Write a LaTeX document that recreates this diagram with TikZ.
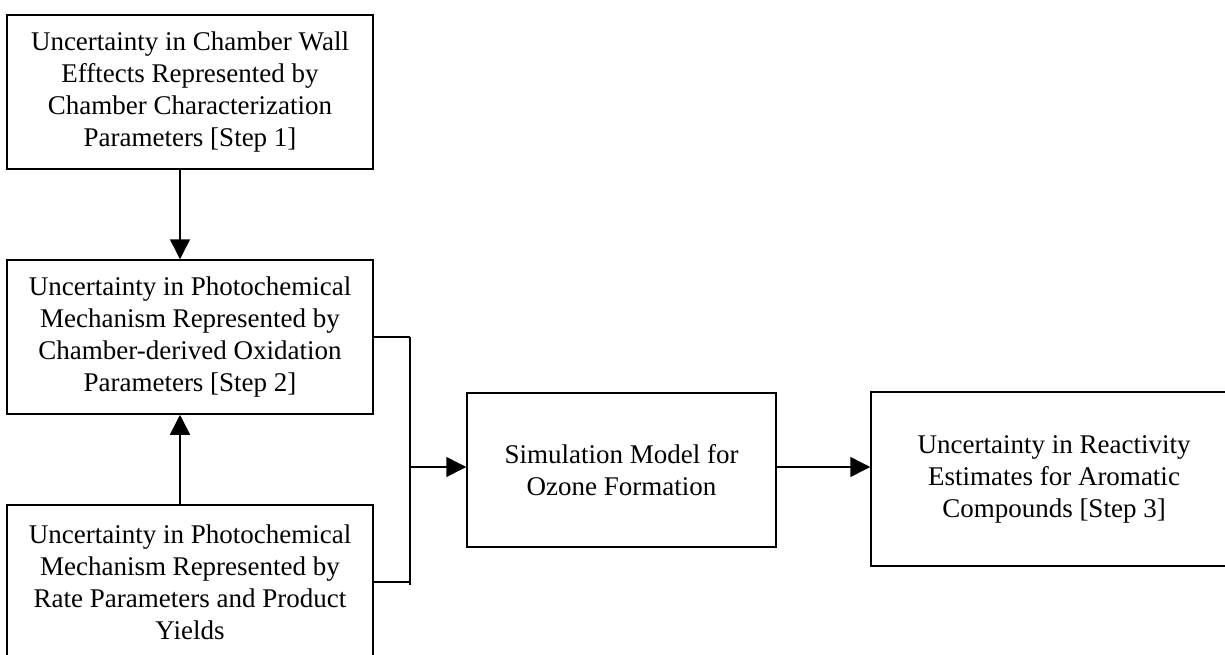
\documentclass[tikz,border=0pt]{standalone}
\usepackage{fontspec}
\setmainfont{Liberation Serif}
\usetikzlibrary{arrows.meta}
\begin{document}
\begin{tikzpicture}[x=1pt,y=-1pt,
  box/.style={draw,line width=1.5pt,rectangle,align=center,inner sep=0pt,
    font=\fontsize{27}{32}\selectfont},
  link/.style={line width=1.5pt},
  arr/.style={line width=1.5pt,-{Triangle[length=20pt,width=20pt]}}]
\clip (0,0) rectangle (1225,654);
\fill[white] (0,0) rectangle (1225,654);
\node[box,minimum width=366pt,minimum height=154pt] (b1) at (190,92)
  {Uncertainty in Chamber Wall\\Efftects Represented by\\Chamber Characterization\\Parameters [Step 1]};
\node[box,minimum width=366pt,minimum height=154pt] (b2) at (190,337)
  {Uncertainty in Photochemical\\Mechanism Represented by\\Chamber-derived Oxidation\\Parameters [Step 2]};
\node[box,minimum width=366pt,minimum height=154pt] (b3) at (190,582)
  {Uncertainty in Photochemical\\Mechanism Represented by\\Rate Parameters and Product\\Yields};
\node[box,minimum width=309pt,minimum height=154pt] (b4) at (621.5,470)
  {Simulation Model for\\Ozone Formation};
\node[box,minimum width=366pt,minimum height=174pt] (b5) at (1054,479)
  {Uncertainty in Reactivity\\Estimates for Aromatic\\Compounds [Step 3]};
\coordinate (jt) at (410,337);
\coordinate (jb) at (410,585);
\coordinate (jm) at (410,467);
\draw[arr] ([xshift=-10pt]b1.south) -- ([xshift=-10pt]b2.north);
\draw[arr] ([xshift=-10pt]b3.north) -- ([xshift=-10pt]b2.south);
\draw[link] (b2.east) -- (b2.east -| jt);
\draw[link] (b3.east) -- (b3.east -| jt);
\draw[link] (jt) -- (jb);
\draw[arr] (jm) -- (jm -| b4.west);
\draw[arr] (b4.east |- jm) -- (b5.west |- jm);
\end{tikzpicture}
\end{document}
